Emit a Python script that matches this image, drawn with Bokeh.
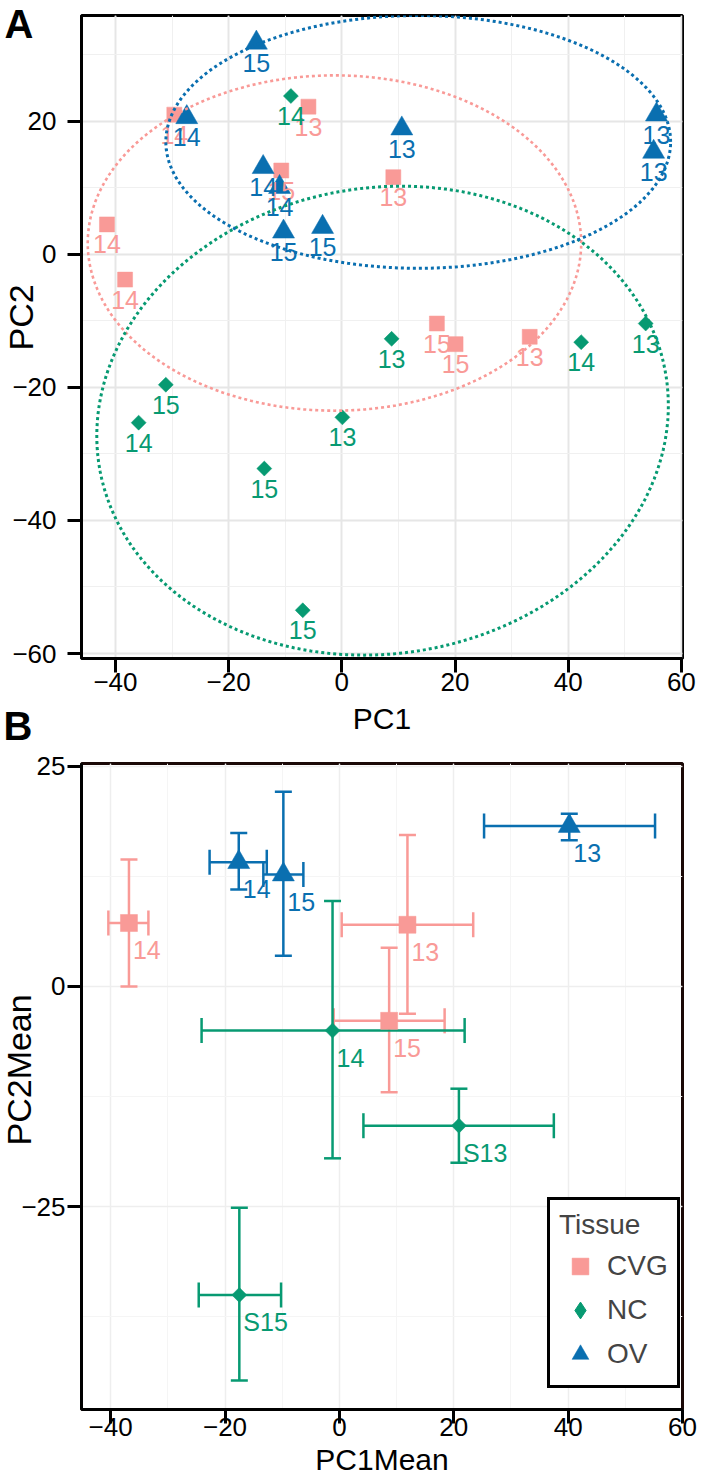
import numpy as np
from bokeh.plotting import figure
from bokeh.layouts import column
from bokeh.models import (ColumnDataSource, FixedTicker, Legend, LegendItem,
                          Whisker, TeeHead, Range1d, Title)
from bokeh.core.properties import value
from bokeh.embed import file_html
from bokeh.resources import INLINE

FONT = "Liberation Sans"

# ---------------- data: panel A (individual samples) ----------------
tissues = ["CVG", "NC", "OV"]
colors = {"CVG": "#F99A97", "NC": "#079A72", "OV": "#0A6FB0"}

cvg_pc1 = [-29.6, -5.9, -10.7, -41.5, -38.3, 9.1, 16.8, 20.1, 33.2]
cvg_pc2 = [21.0, 22.2, 12.6, 4.5, -3.8, 11.6, -10.4, -13.5, -12.4]
cvg_lab = ["14", "13", "15", "14", "14", "13", "15", "15", "13"]

nc_pc1 = [-9.0, 8.8, 42.3, 53.7, -31.1, -35.9, 0.1, -13.7, -6.9]
nc_pc2 = [23.8, -12.7, -13.2, -10.4, -19.6, -25.3, -24.5, -32.2, -53.5]
nc_lab = ["14", "13", "14", "13", "15", "14", "13", "15", "15"]

ov_pc1 = [-15.1, -27.4, -13.9, -11.0, -10.3, -3.4, 10.6, 55.6, 55.1]
ov_pc2 = [31.8, 20.6, 13.1, 10.1, 3.4, 4.1, 18.9, 21.0, 15.4]
ov_lab = ["15", "14", "14", "14", "15", "15", "13", "13", "13"]

# confidence ellipses: centre, semi-axes, rotation (deg)
ell_cx = {"CVG": -1.3, "NC": 7.2, "OV": 13.5}
ell_cy = {"CVG": 1.7, "NC": -25.0, "OV": 16.9}
ell_rx = {"CVG": 43.6, "NC": 50.6, "OV": 44.6}
ell_ry = {"CVG": 25.2, "NC": 35.1, "OV": 19.0}
ell_rot = {"CVG": 0.0, "NC": 5.0, "OV": 0.0}

a_xticks = [-40, -20, 0, 20, 40, 60]
a_xlabels = ["\u221240", "\u221220", "0", "20", "40", "60"]
a_yticks = [-60, -40, -20, 0, 20]
a_ylabels = ["\u221260", "\u221240", "\u221220", "0", "20"]

# ---------------- data: panel B (group means with error bars) ----------------
cvg_m1 = [-36.8, 11.9, 8.7]
cvg_m2 = [7.2, 7.0, -3.9]
cvg_x_lo = [-40.4, 0.4, -1.0]
cvg_x_hi = [-33.4, 23.4, 18.4]
cvg_y_lo = [0.0, -3.1, -12.0]
cvg_y_hi = [14.4, 17.2, 4.4]
cvg_mlab = ["14", "13", "15"]

nc_m1 = [-1.2, 20.9, -17.5]
nc_m2 = [-5.0, -15.8, -35.0]
nc_x_lo = [-24.1, 4.2, -24.6]
nc_x_hi = [21.9, 37.5, -10.2]
nc_y_lo = [-19.5, -20.0, -44.7]
nc_y_hi = [9.7, -11.6, -25.1]
nc_mlab = ["14", "S13", "S15"]

ov_m1 = [-17.6, -9.8, 40.2]
ov_m2 = [14.1, 12.7, 18.2]
ov_x_lo = [-22.7, -13.3, 25.3]
ov_x_hi = [-12.7, -6.3, 55.2]
ov_y_lo = [11.0, 3.5, 16.6]
ov_y_hi = [17.4, 22.1, 19.6]
ov_mlab = ["14", "15", "13"]

b_xticks = [-40, -20, 0, 20, 40, 60]
b_xlabels = ["\u221240", "\u221220", "0", "20", "40", "60"]
b_yticks = [-25, 0, 25]
b_ylabels = ["\u221225", "0", "25"]

A = {"CVG": (cvg_pc1, cvg_pc2, cvg_lab), "NC": (nc_pc1, nc_pc2, nc_lab), "OV": (ov_pc1, ov_pc2, ov_lab)}
B = {"CVG": (cvg_m1, cvg_m2, cvg_x_lo, cvg_x_hi, cvg_y_lo, cvg_y_hi, cvg_mlab),
     "NC": (nc_m1, nc_m2, nc_x_lo, nc_x_hi, nc_y_lo, nc_y_hi, nc_mlab),
     "OV": (ov_m1, ov_m2, ov_x_lo, ov_x_hi, ov_y_lo, ov_y_hi, ov_mlab)}

MARK = {"CVG": dict(marker="square", angle=0.0, sizeA=15, sizeB=17),
        "NC": dict(marker="square", angle=np.pi / 4, sizeA=10.6, sizeB=10.6),
        "OV": dict(marker="triangle", angle=0.0, sizeA=22, sizeB=22)}


def ellipse_path(t, n=200):
    th = np.linspace(0, 2 * np.pi, n + 1)
    r = np.deg2rad(ell_rot[t])
    ex = ell_cx[t] + ell_rx[t] * np.cos(th) * np.cos(r) - ell_ry[t] * np.sin(th) * np.sin(r)
    ey = ell_cy[t] + ell_rx[t] * np.cos(th) * np.sin(r) + ell_ry[t] * np.sin(th) * np.cos(r)
    return ex, ey


def style_axes(p, xt, xl, yt, yl, grid_major, grid_minor, gw, tick_len, xstand, ystand):
    p.xaxis.ticker = FixedTicker(ticks=xt, minor_ticks=list(np.arange(xt[0] - 10, xt[-1] + 10.1, 10)))
    step = (yt[1] - yt[0]) / 2
    p.yaxis.ticker = FixedTicker(ticks=yt, minor_ticks=list(np.arange(yt[0] - 2 * step, yt[-1] + 2 * step + 0.1, step)))
    p.xaxis.major_label_overrides = {t: s for t, s in zip(xt, xl)}
    p.yaxis.major_label_overrides = {t: s for t, s in zip(yt, yl)}
    for ax in (p.xaxis[0], p.yaxis[0]):
        ax.axis_line_width = 3
        ax.axis_line_color = "black"
        ax.major_tick_line_width = 3
        ax.major_tick_out = tick_len
        ax.major_tick_in = 0
        ax.minor_tick_out = 0
        ax.minor_tick_in = 0
        ax.major_label_text_font = FONT
        ax.major_label_text_font_size = "26px"
        ax.major_label_text_color = "black"
        ax.axis_label_text_font = FONT
        ax.axis_label_text_font_style = "normal"
        ax.axis_label_text_font_size = "30px"
        ax.axis_label_text_color = "black"
    p.xaxis.major_label_standoff = xstand
    p.yaxis.major_label_standoff = ystand
    for g in (p.xgrid[0], p.ygrid[0]):
        g.grid_line_color = grid_major
        g.grid_line_width = gw
        g.minor_grid_line_color = grid_minor
        g.minor_grid_line_width = 1


def side_title(text, size, bold, valign, offset, standoff, align="left"):
    return Title(text=text, align=align, vertical_align=valign, offset=offset, standoff=standoff,
                 text_font=FONT, text_font_size=size, text_font_style="bold" if bold else "normal",
                 text_color="black")


# ---------------- panel A ----------------
pA = figure(width=702, height=748, output_backend="svg", toolbar_location=None,
            x_range=Range1d(-46.0, 60.2), y_range=Range1d(-60.75, 35.9),
            min_border_left=79, min_border_right=20, min_border_top=15, min_border_bottom=90,
            background_fill_color="white", border_fill_color="white",
            outline_line_color="black", outline_line_width=3)
style_axes(pA, a_xticks, a_xlabels, a_yticks, a_ylabels, "#e6e6e6", "#f0f0f0", 2, 14, 0, 11)
pA.xaxis.axis_label = "PC1"
pA.xaxis.axis_label_standoff = 8

for t in tissues:
    xs, ys, labs = A[t]
    m = MARK[t]
    pA.scatter(xs, ys, marker=m["marker"], size=m["sizeA"], angle=m["angle"],
               fill_color=colors[t], line_color=colors[t], line_width=0.5)
for t in tissues:
    xs, ys, labs = A[t]
    pA.text(xs, ys, text=labs, text_align="center", text_baseline="middle", y_offset=20,
            text_font=value(FONT), text_font_size="25px", text_color=colors[t])
for t in tissues:
    ex, ey = ellipse_path(t)
    pA.line(ex, ey, line_color=colors[t], line_width=3 if t != "CVG" else 2.6, line_dash="3 3")

pA.add_layout(side_title("PC2", "34px", False, "bottom", 308, -60), "left")
pA.add_layout(side_title("A", "40px", True, "bottom", -77, -61), "above")
pA.add_layout(side_title("B", "40px", True, "top", -78, -68), "below")

# ---------------- panel B ----------------
pB = figure(width=702, height=729, output_backend="svg", toolbar_location=None,
            x_range=Range1d(-45.1, 60.0), y_range=Range1d(-48.0, 25.3),
            min_border_left=81, min_border_right=19, min_border_top=15, min_border_bottom=66,
            background_fill_color="white", border_fill_color="white",
            outline_line_color="#1a0806", outline_line_width=3)
style_axes(pB, b_xticks, b_xlabels, b_yticks, b_ylabels, "#eeeeee", "#f5f5f5", 1.5, 14, -6, 2)

# legend key glyph for NC (small diamonds hidden under the rotated squares)
r_nc_key = pB.scatter(nc_m1, nc_m2, marker="diamond", size=9,
                      fill_color=colors["NC"], line_color=colors["NC"])

rB = {}
for t in tissues:
    m1, m2, xlo, xhi, ylo, yhi, labs = B[t]
    src = ColumnDataSource(dict(x=m1, y=m2, xlo=xlo, xhi=xhi, ylo=ylo, yhi=yhi))
    c = colors[t]
    pB.add_layout(Whisker(source=src, base="x", lower="ylo", upper="yhi", dimension="height",
                          line_color=c, line_width=2.5,
                          upper_head=TeeHead(size=17, line_color=c, line_width=2.5),
                          lower_head=TeeHead(size=17, line_color=c, line_width=2.5)))
    pB.add_layout(Whisker(source=src, base="y", lower="xlo", upper="xhi", dimension="width",
                          line_color=c, line_width=2.5,
                          upper_head=TeeHead(size=25, line_color=c, line_width=2.5),
                          lower_head=TeeHead(size=25, line_color=c, line_width=2.5)))
for t in tissues:
    m1, m2, xlo, xhi, ylo, yhi, labs = B[t]
    m = MARK[t]
    rB[t] = pB.scatter(m1, m2, marker=m["marker"], size=m["sizeB"], angle=m["angle"],
                       fill_color=colors[t], line_color=colors[t], line_width=0.5)
    pB.text(m1, m2, text=labs, text_align="left", text_baseline="middle", x_offset=4, y_offset=27,
            text_font=value(FONT), text_font_size="25px", text_color=colors[t])

legend_r = {"CVG": rB["CVG"], "NC": r_nc_key, "OV": rB["OV"]}

pB.add_layout(side_title("PC2Mean", "34px", False, "bottom", 264, -38), "left")
pB.add_layout(side_title("PC1Mean", "30px", False, "bottom", 0, 4, align="center"), "below")

legend = Legend(items=[LegendItem(label=t, renderers=[legend_r[t]]) for t in tissues],
                location=(466, 21), title="Tissue",
                title_text_font=FONT, title_text_font_size="28px", title_text_font_style="normal",
                title_standoff=3,
                label_text_font=FONT, label_text_font_size="28px",
                border_line_color="black", border_line_width=3, border_line_alpha=1.0,
                background_fill_color="white", background_fill_alpha=1.0,
                padding=9, spacing=0, margin=0,
                glyph_width=42, glyph_height=44, label_height=44, label_standoff=6)
pB.add_layout(legend)

layout = column(pA, pB, spacing=0)
open("out.html", "w").write(file_html(layout, INLINE))
